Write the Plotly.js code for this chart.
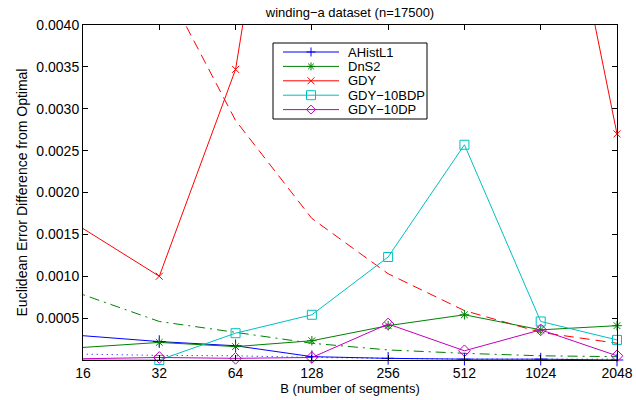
<!DOCTYPE html>
<html>
<head>
<meta charset="utf-8">
<script src="https://cdn.plot.ly/plotly-3.0.1.min.js"></script>
<style>
  html, body { margin: 0; padding: 0; background: #fff; }
  #chart { width: 636px; height: 400px; }
</style>
</head>
<body>
<div id="chart"></div>
<script>
// Number of segments B (the first value lies left of the visible axis range)
const B = [8, 32, 64, 128, 256, 512, 1024, 2048];

// Measured error differences per method
const AHistL1  = [0.00036, 0.00022, 0.00017, 0.00004, 0.00002, 0.00001, 0.00001, 0.0];
const DnS2     = [0.00009, 0.00021, 0.00016, 0.00023, 0.00041, 0.00054, 0.00036, 0.00041];
const GDY      = [0.00214, 0.00100, 0.00347, 0.0091, 0.0105, 0.0112, 0.0072, 0.0027];
const GDY10BDP = [0.0, 0.0, 0.00032, 0.00054, 0.00123, 0.00257, 0.00046, 0.00024];
const GDY10DP  = [0.0, 0.00003, 0.00002, 0.00003, 0.00043, 0.00011, 0.00036, 0.00005];

// Trend curves (no markers, not in the legend)
const GDYTrend     = [0.0115, 0.0046, 0.00286, 0.00169, 0.00103, 0.00059, 0.00033, 0.00020];
const DnS2Trend    = [0.0011, 0.00046, 0.00033, 0.00020, 0.00012, 0.00008, 0.00005, 0.00004];
const AHistL1Trend = [0.000085, 0.000055, 0.00005, 0.00003, 0.00002, 0.00001, 0.00001, 0.00001];

// Legend labels
const seriesNames = ['AHistL1', 'DnS2', 'GDY', 'GDY\u221210BDP', 'GDY\u221210DP'];

// Axis ticks
const xTickVals = [16, 32, 64, 128, 256, 512, 1024, 2048];
const xTickText = ['16', '32', '64', '128', '256', '512', '1024', '2048'];
const yTickVals = [0.0005, 0.0010, 0.0015, 0.0020, 0.0025, 0.0030, 0.0035, 0.0040];
const yTickText = ['0.0005', '0.0010', '0.0015', '0.0020', '0.0025', '0.0030', '0.0035', '0.0040'];

const X_MIN = 16, X_MAX = 2048, Y_MAX = 0.004;

const FONT = 'Liberation Sans, Arial, Helvetica, sans-serif';

// Figure geometry (pixels)
const W = 636, H = 400;
const M = { l: 83, r: 19, t: 25, b: 40 };
const PW = W - M.l - M.r, PH = H - M.t - M.b;
const px2x = px => (px - M.l) / PW;
const px2y = py => (H - M.b - py) / PH;

const styles = [
  { y: AHistL1,  color: '#0000ff', symbol: 'cross-thin',   size: 9 },
  { y: DnS2,     color: '#008000', symbol: 'asterisk',     size: 8 },
  { y: GDY,      color: '#ff0000', symbol: 'x-thin',       size: 7 },
  { y: GDY10BDP, color: '#00bfbf', symbol: 'square-open',  size: 9 },
  { y: GDY10DP,  color: '#bf00bf', symbol: 'diamond-open', size: 9 }
];

const traces = [];

// Trend curves drawn first, underneath the measured lines
traces.push({
  x: B, y: GDYTrend, mode: 'lines', showlegend: false, hoverinfo: 'skip',
  line: { color: '#ff0000', width: 1, dash: '10px,6px' }
});
traces.push({
  x: B, y: DnS2Trend, mode: 'lines', showlegend: false, hoverinfo: 'skip',
  line: { color: '#008000', width: 1, dash: '10px,5px,2px,5px' }
});
traces.push({
  x: B, y: AHistL1Trend, mode: 'lines', showlegend: false, hoverinfo: 'skip',
  line: { color: '#0000ff', width: 1, dash: '1px,4px' }
});

styles.forEach((s, k) => {
  const mk = {
    symbol: s.symbol, size: s.size, color: s.color,
    line: { color: s.color, width: 1 }
  };
  // polyline, clipped to the plot area
  traces.push({
    x: B, y: s.y, name: seriesNames[k], mode: 'lines', cliponaxis: true,
    showlegend: false, line: { color: s.color, width: 1 }
  });
  // markers whose data point is inside the axes are drawn whole
  const xs = [], ys = [];
  B.forEach((b, i) => {
    if (b >= X_MIN && b <= X_MAX && s.y[i] <= Y_MAX) { xs.push(b); ys.push(s.y[i]); }
  });
  traces.push({
    x: xs, y: ys, name: seriesNames[k], mode: 'markers', showlegend: false,
    cliponaxis: false, marker: mk
  });
});

// ---- boxed legend, laid out in pixels ----
const LEG = { left: 273, right: 427, top: 43, bottom: 119,
              row0: 52, step: 14.4, lineX0: 283, lineX1: 339, textX: 346 };

function glyphPath(kind, cx, cy, r) {
  const P = (x, y) => px2x(x).toFixed(5) + ',' + px2y(y).toFixed(5);
  switch (kind) {
    case 'cross-thin':
      return 'M' + P(cx - r, cy) + 'L' + P(cx + r, cy) + 'M' + P(cx, cy - r) + 'L' + P(cx, cy + r);
    case 'asterisk': {
      const d = r * 0.72;
      return 'M' + P(cx - r, cy) + 'L' + P(cx + r, cy) + 'M' + P(cx, cy - r) + 'L' + P(cx, cy + r) +
             'M' + P(cx - d, cy - d) + 'L' + P(cx + d, cy + d) + 'M' + P(cx - d, cy + d) + 'L' + P(cx + d, cy - d);
    }
    case 'x-thin':
      return 'M' + P(cx - r, cy - r) + 'L' + P(cx + r, cy + r) + 'M' + P(cx - r, cy + r) + 'L' + P(cx + r, cy - r);
    case 'square-open':
      return 'M' + P(cx - r, cy - r) + 'L' + P(cx + r, cy - r) + 'L' + P(cx + r, cy + r) + 'L' + P(cx - r, cy + r) + 'Z';
    default: // diamond-open
      return 'M' + P(cx, cy - r) + 'L' + P(cx + r, cy) + 'L' + P(cx, cy + r) + 'L' + P(cx - r, cy) + 'Z';
  }
}

const glyphRadius = { 'cross-thin': 4.5, 'asterisk': 4, 'x-thin': 3.5, 'square-open': 4.5, 'diamond-open': 4.5 };

const shapes = [{
  type: 'rect', xref: 'paper', yref: 'paper', layer: 'above',
  x0: px2x(LEG.left), x1: px2x(LEG.right), y0: px2y(LEG.bottom), y1: px2y(LEG.top),
  fillcolor: '#fff', line: { color: '#000', width: 1 }
}];
const annotations = [];

styles.forEach((s, k) => {
  const cy = LEG.row0 + k * LEG.step;
  const cx = (LEG.lineX0 + LEG.lineX1) / 2;
  shapes.push({
    type: 'line', xref: 'paper', yref: 'paper', layer: 'above',
    x0: px2x(LEG.lineX0), x1: px2x(LEG.lineX1), y0: px2y(cy), y1: px2y(cy),
    line: { color: s.color, width: 1 }
  });
  shapes.push({
    type: 'path', xref: 'paper', yref: 'paper', layer: 'above',
    path: glyphPath(s.symbol, cx, cy, glyphRadius[s.symbol]),
    fillcolor: 'rgba(0,0,0,0)', line: { color: s.color, width: 1 }
  });
  annotations.push({
    xref: 'paper', yref: 'paper', x: px2x(LEG.textX), y: px2y(cy),
    xanchor: 'left', yanchor: 'middle', showarrow: false,
    text: seriesNames[k], font: { family: FONT, size: 13, color: '#000' }
  });
});

const layout = {
  width: W, height: H,
  margin: M,
  paper_bgcolor: '#fff', plot_bgcolor: '#fff',
  font: { family: FONT, color: '#000', size: 13 },
  showlegend: false,
  title: {
    text: 'winding\u2212a dataset (n=17500)',
    font: { family: FONT, size: 13, color: '#000' },
    x: 0.5, xref: 'paper', xanchor: 'center',
    y: 0.97, yref: 'container', yanchor: 'middle'
  },
  xaxis: {
    type: 'log',
    range: [Math.log10(X_MIN), Math.log10(X_MAX)],
    tickmode: 'array', tickvals: xTickVals, ticktext: xTickText,
    ticks: 'inside', ticklen: 5, tickcolor: '#000', tickwidth: 1,
    showline: true, linecolor: '#000', linewidth: 1, mirror: 'ticks',
    showgrid: false, zeroline: false,
    tickfont: { family: FONT, size: 14, color: '#000' },
    title: { text: 'B (number of segments)', font: { family: FONT, size: 13, color: '#000' }, standoff: 4 }
  },
  yaxis: {
    range: [0, Y_MAX],
    tickmode: 'array', tickvals: yTickVals, ticktext: yTickText,
    ticks: 'inside', ticklen: 5, tickcolor: '#000', tickwidth: 1,
    showline: true, linecolor: '#000', linewidth: 1, mirror: 'ticks',
    showgrid: false, zeroline: false,
    tickfont: { family: FONT, size: 14, color: '#000' },
    title: { text: 'Euclidean Error Difference from Optimal', font: { family: FONT, size: 14, color: '#000' }, standoff: 5 }
  },
  shapes: shapes,
  annotations: annotations
};

Plotly.newPlot('chart', traces, layout, { displayModeBar: false, staticPlot: true });
</script>
</body>
</html>
